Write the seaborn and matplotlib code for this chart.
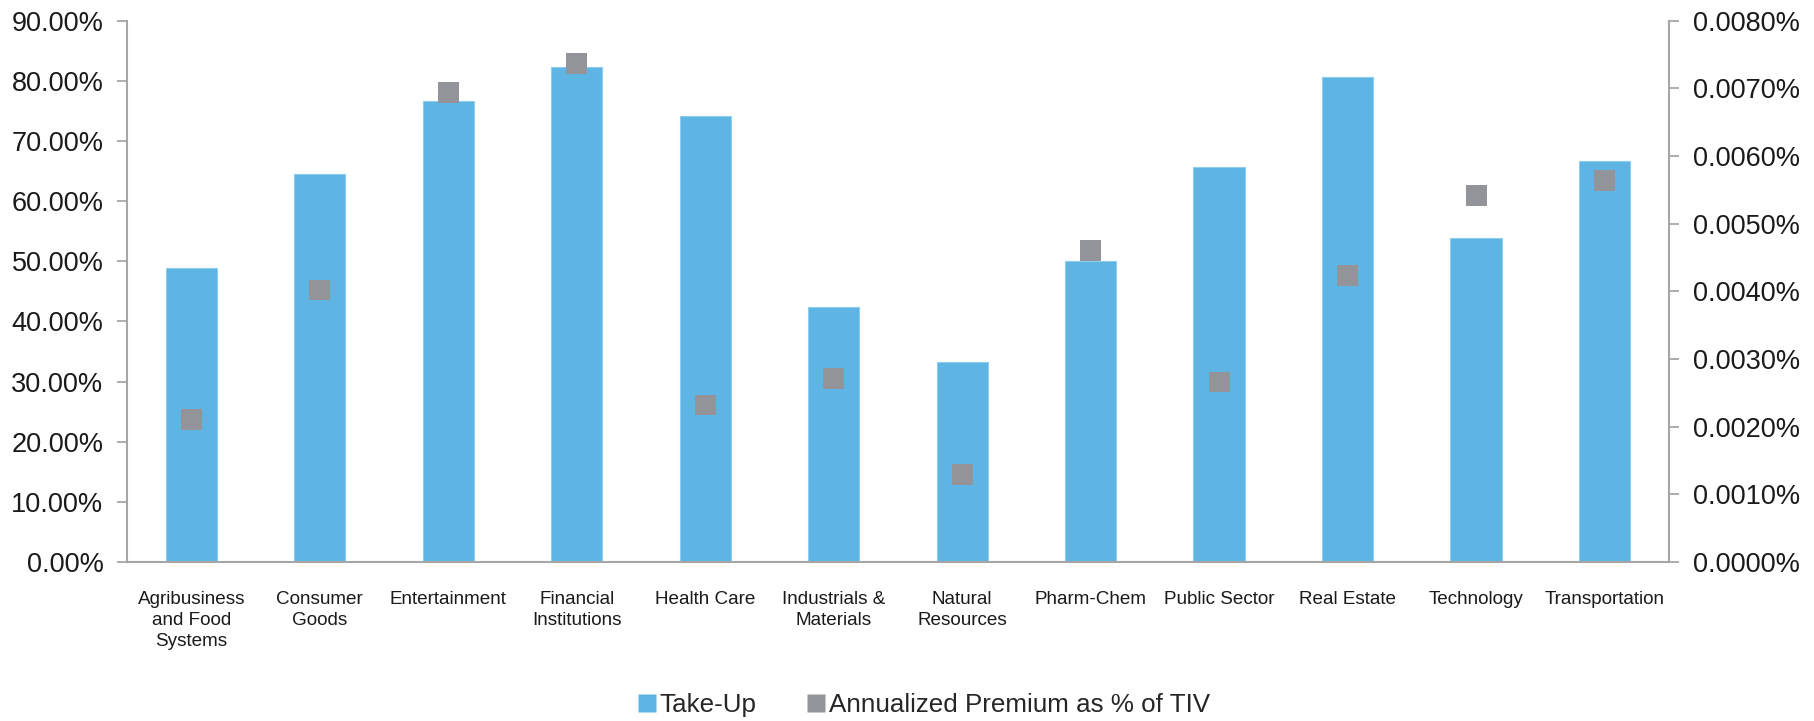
import numpy as np
import pandas as pd
import matplotlib
matplotlib.use("Agg")
import matplotlib.pyplot as plt
from matplotlib.ticker import FuncFormatter, FixedLocator
from matplotlib.lines import Line2D
import seaborn as sns

categories = ["Agribusiness\nand Food\nSystems", "Consumer\nGoods", "Entertainment",
              "Financial\nInstitutions", "Health Care", "Industrials &\nMaterials",
              "Natural\nResources", "Pharm-Chem", "Public Sector", "Real Estate",
              "Technology", "Transportation"]
take_up = [48.9, 64.5, 76.6, 82.2, 74.2, 42.4, 33.3, 50.0, 65.6, 80.7, 53.8, 66.6]
premium = [0.00210, 0.00402, 0.00694, 0.00737, 0.00232, 0.00271, 0.00129,
           0.00460, 0.00266, 0.00423, 0.00541, 0.00564]
left_ticks = [0, 10, 20, 30, 40, 50, 60, 70, 80, 90]
right_ticks = [0.0, 0.001, 0.002, 0.003, 0.004, 0.005, 0.006, 0.007, 0.008]
series_names = ["Take-Up", "Annualized Premium as % of TIV"]

BAR = "#5EB5E3"
MARK = "#929499"
SPINE = "#a6a6a6"

sns.set_style("white")
plt.rcParams["font.family"] = ["Liberation Sans", "DejaVu Sans"]

df = pd.DataFrame({"pos": np.arange(len(categories)), "cat": categories,
                   "take_up": take_up, "premium": premium})

fig = plt.figure(figsize=(18.15, 7.21), dpi=100)
ax = fig.add_axes([0.070, 0.2205, 0.8495, 0.751])

sns.barplot(data=df, x="pos", y="take_up", color=BAR, width=0.4,
            saturation=1, ax=ax, native_scale=True, edgecolor="#8fcdef", linewidth=0.8)
ax.set_xlim(-0.5, len(categories) - 0.5)
ax.set_ylim(0, 90)

ax2 = ax.twinx()
sns.scatterplot(data=df, x="pos", y="premium", marker="s", s=225, color=MARK,
                edgecolor="none", ax=ax2, zorder=5)
ax2.set_ylim(0, 0.008)
ax2.set_xlim(-0.5, len(categories) - 0.5)

ax.set_xlabel("")
ax.set_ylabel("")
ax2.set_xlabel("")
ax2.set_ylabel("")

ax.yaxis.set_major_locator(FixedLocator(left_ticks))
ax.yaxis.set_major_formatter(FuncFormatter(lambda v, p: f"{v:.2f}%"))
ax2.yaxis.set_major_locator(FixedLocator(right_ticks))
ax2.yaxis.set_major_formatter(FuncFormatter(lambda v, p: f"{v:.4f}%"))

ax.set_xticks(np.arange(len(categories)))
ax.set_xticklabels(categories, fontsize=13.6, color="#1a1a1a", linespacing=1.3)
ax.set_xticks(np.arange(len(categories) + 1) - 0.5, minor=True)
ax.tick_params(axis="x", which="major", length=0, pad=21)
ax.tick_params(axis="x", which="minor", length=7, width=1.3, color=SPINE, direction="out")
ax.tick_params(axis="y", which="major", length=7, width=1.3, color=SPINE,
               labelsize=19.5, labelcolor="#1a1a1a", pad=10, direction="out")
ax2.tick_params(axis="y", which="major", length=7, width=1.3, color=SPINE,
                labelsize=19.5, labelcolor="#1a1a1a", pad=10, direction="out")

for a in (ax, ax2):
    a.spines["top"].set_visible(False)
    for s in ("left", "bottom", "right"):
        a.spines[s].set_color(SPINE)
        a.spines[s].set_linewidth(1.5)
    a.grid(False)
ax.spines["right"].set_visible(False)
ax2.spines["left"].set_visible(False)
ax2.spines["bottom"].set_visible(False)

handles = [Line2D([], [], marker="s", linestyle="none", markersize=13,
                  markerfacecolor=BAR, markeredgecolor="none"),
           Line2D([], [], marker="s", linestyle="none", markersize=13,
                  markerfacecolor=MARK, markeredgecolor="none")]
fig.legend(handles, series_names, loc="center", bbox_to_anchor=(0.508, 0.022),
           ncol=2, frameon=False, fontsize=18.7, handletextpad=0.0,
           columnspacing=1.8, handlelength=1.0)

fig.savefig("out.png", dpi=100, facecolor="white")
